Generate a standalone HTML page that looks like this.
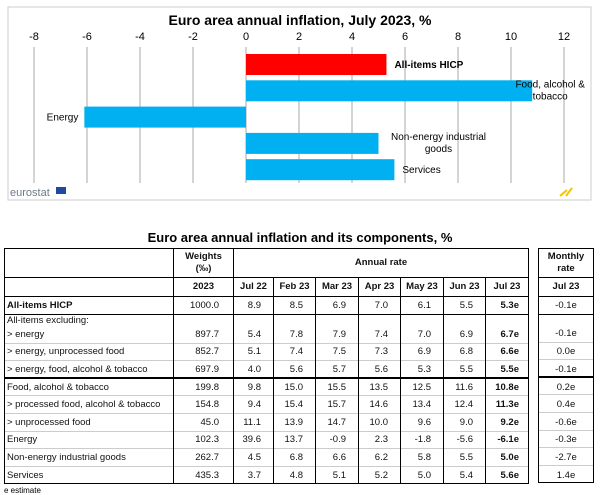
<!DOCTYPE html>
<html><head><meta charset="utf-8"><style>
body{margin:0;width:600px;height:492px;background:#fff;font-family:"Liberation Sans",sans-serif;position:relative;overflow:hidden}
#chart{position:absolute;left:0;top:0}
#ttl2{position:absolute;left:0;width:600px;top:230px;text-align:center;font-weight:bold;font-size:13px}
table{position:absolute;border-collapse:collapse;table-layout:fixed;font-size:9.5px;color:#111}
td{border-left:1px solid #000;border-right:1px solid #000;padding:0 3px;text-align:right;white-space:nowrap;overflow:hidden;line-height:11px}
td.l{text-align:left;padding-left:2px}
tr.g td{border-top:1px solid #ccc}
tr.b td{border-top:1px solid #000}
tr.bb td{border-top:2px solid #000}
th{border:1px solid #000;font-weight:bold;font-size:9.5px;text-align:center;line-height:12px;padding:0}
.bold{font-weight:bold}
#note{position:absolute;left:4px;top:486px;font-size:8px}
</style></head><body>
<svg id="chart" width="600" height="215">
<rect x="8" y="7" width="583" height="193" fill="none" stroke="#ccc"/>
<text x="300" y="25" text-anchor="middle" font-weight="bold" font-size="14">Euro area annual inflation, July 2023, %</text>
<g id="axis"></g><g id="bars"></g>
<text x="10" y="196" font-size="11" fill="#6b7a8a">eurostat</text>
<rect x="56" y="187" width="10" height="7" fill="#1f4aa0"/>
<path d="M560 196 L567 190 M566 196 L572 188" stroke="#f5c300" stroke-width="2"/>
</svg>
<div id="ttl2">Euro area annual inflation and its components, %</div>
<table style="left:4px;top:248px;width:524px">
<colgroup><col style="width:169px"><col style="width:60px"><col style="width:40px"><col style="width:42px"><col style="width:43px"><col style="width:42px"><col style="width:43px"><col style="width:42px"><col style="width:43px"></colgroup>
<tr style="height:29px"><th></th><th>Weights<br>(‰)</th><th colspan="7" style="font-weight:bold">Annual rate</th></tr>
<tr style="height:19px"><th></th><th>2023</th><th>Jul 22</th><th>Feb 23</th><th>Mar 23</th><th>Apr 23</th><th>May 23</th><th>Jun 23</th><th>Jul 23</th></tr>
<tbody id="tb"></tbody>
</table>
<table style="left:538px;top:248px;width:56px">
<tr style="height:29px"><th>Monthly<br>rate</th></tr>
<tr style="height:19px"><th>Jul 23</th></tr>
<tbody id="tb2"></tbody>
</table>
<div id="note">e estimate</div>
<script>
const categories=["All-items HICP","Food, alcohol & tobacco","Energy","Non-energy industrial goods","Services"];
const values=[5.3,10.8,-6.1,5.0,5.6];
const ticks=[-8,-6,-4,-2,0,2,4,6,8,10,12];
const NS="http://www.w3.org/2000/svg";
function X(v){return 246+v*26.5;}
const ax=document.getElementById('axis'),bs=document.getElementById('bars');
ticks.forEach(t=>{
 const l=document.createElementNS(NS,'line');
 l.setAttribute('x1',X(t));l.setAttribute('x2',X(t));l.setAttribute('y1',47);l.setAttribute('y2',183);l.setAttribute('stroke','#aaa');
 
 
 ax.appendChild(l);
 const tx=document.createElementNS(NS,'text');
 tx.setAttribute('x',X(t));tx.setAttribute('y',40);tx.setAttribute('text-anchor','middle');tx.setAttribute('font-size','11');tx.textContent=t;
 
 
 ax.appendChild(tx);
});
const labels=[[["All-items HICP"],"r"],[["Food, alcohol &","tobacco"],"f"],[["Energy"],"e"],[["Non-energy industrial","goods"],"n"],[["Services"],"s"]];
categories.forEach((c,i)=>{
 const v=values[i],y=54+i*26.3;
 const r=document.createElementNS(NS,'rect');
 r.setAttribute('x',Math.min(X(0),X(v)));r.setAttribute('width',Math.abs(X(v)-X(0)));r.setAttribute('y',y);r.setAttribute('height',21);
 r.setAttribute('fill',i==0?'#ff0000':'#00b0f0');
 
 
 bs.appendChild(r);
 const lines=labels[i][0];
 lines.forEach((s,k)=>{
  const t=document.createElementNS(NS,'text');
  t.setAttribute('font-size','10');
  let x,anchor='start',yy=y+14;
  if(v<0){x=X(v)-6;anchor='end';}
  else if(i==1){x=X(v)+18;anchor='middle';yy=y+7+k*12;}
  else if(lines.length>1){x=X(v)+60;anchor='middle';yy=y+7+k*12;}
  else x=X(v)+8;
  if(i==0)t.setAttribute('font-weight','bold');
  t.setAttribute('x',x);t.setAttribute('y',yy);t.setAttribute('text-anchor',anchor);t.textContent=s;
  
  
  bs.appendChild(t);
 });
});
const rowNames=["All-items HICP","> energy","> energy, unprocessed food","> energy, food, alcohol & tobacco","Food, alcohol & tobacco","> processed food, alcohol & tobacco","> unprocessed food","Energy","Non-energy industrial goods","Services"];
const weights=["1000.0","897.7","852.7","697.9","199.8","154.8","45.0","102.3","262.7","435.3"];
const rates=[["8.9","8.5","6.9","7.0","6.1","5.5","5.3e"],["5.4","7.8","7.9","7.4","7.0","6.9","6.7e"],["5.1","7.4","7.5","7.3","6.9","6.8","6.6e"],["4.0","5.6","5.7","5.6","5.3","5.5","5.5e"],["9.8","15.0","15.5","13.5","12.5","11.6","10.8e"],["9.4","15.4","15.7","14.6","13.4","12.4","11.3e"],["11.1","13.9","14.7","10.0","9.6","9.0","9.2e"],["39.6","13.7","-0.9","2.3","-1.8","-5.6","-6.1e"],["4.5","6.8","6.6","6.2","5.8","5.5","5.0e"],["3.7","4.8","5.1","5.2","5.0","5.4","5.6e"]];
const monthly=["-0.1e","-0.1e","0.0e","-0.1e","0.2e","0.4e","-0.6e","-0.3e","-2.7e","1.4e"];
const cls=["b","b","g","g","bb","g","g","g","g","g"];
const tb=document.getElementById('tb'),tb2=document.getElementById('tb2');
rowNames.forEach((n,i)=>{
 const tr=document.createElement('tr');tr.className=cls[i];
 
 
 const tr2=document.createElement('tr');tr2.className=cls[i];
 
 
 let h=i==1?'28px':'17.6px';
 tr.style.height=h;tr2.style.height=h;
 const va=i==1?'vertical-align:bottom;padding-bottom:3px;':'';
 let name=i==1?'All-items excluding:<br><span style="line-height:17px">'+n+'</span>':n.replace(/&/g,'&amp;');
 let html='<td class="l'+(i==0?' bold':'')+'" style="vertical-align:'+(i==1?'top':'middle')+'">'+name+'</td><td style="'+va+'padding-right:14px">'+weights[i]+'</td>';
 rates[i].forEach((r,k)=>{html+='<td style="'+va+'padding-right:'+(k==6?9:12)+'px" class="'+(k==6?'bold':'')+'">'+r+'</td>';});
 tr.innerHTML=html;
 tr2.innerHTML='<td style="text-align:center;padding-top:'+(i<2?1:2)+'px;border-bottom:'+(i==9?'1px solid #000':'0')+';'+va+'">'+monthly[i]+'</td>';
 tb.appendChild(tr);tb2.appendChild(tr2);
});
tb.lastChild.querySelectorAll('td').forEach(td=>td.style.borderBottom='1px solid #000');
</script>
</body></html>
